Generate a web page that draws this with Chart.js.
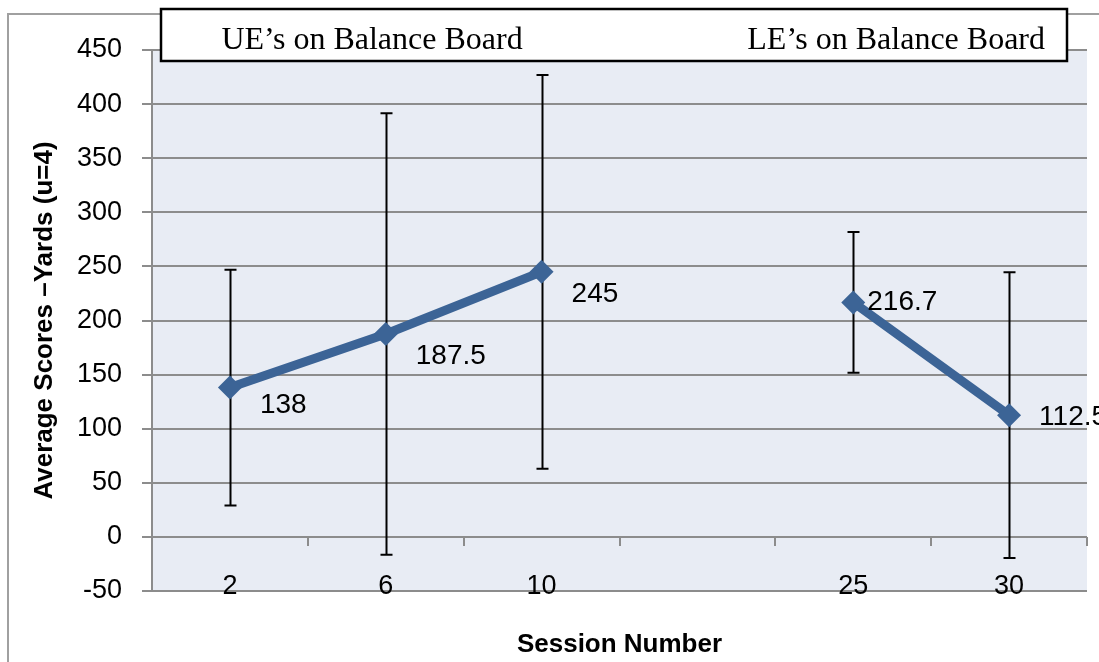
<!DOCTYPE html>
<html>
<head>
<meta charset="utf-8">
<script src="https://cdn.jsdelivr.net/npm/chart.js@4"></script>
<style>
  html, body { margin: 0; padding: 0; background: #fff; }
  #wrap { width: 1099px; height: 662px; }
</style>
</head>
<body>
<div id="wrap"><canvas id="myLineChart" width="1099" height="662"></canvas></div>
<script>
// chart data
const sessions = ['2', '6', '10', '', '25', '30'];
const avgScores = [138, 187.5, 245, null, 216.7, 112.5];
const errAmounts = [109, 204, 182, null, 65, 132];
const yTicks = [-50, 0, 50, 100, 150, 200, 250, 300, 350, 400, 450];
const phaseNames = ['UE\u2019s on Balance Board', 'LE\u2019s on Balance Board'];

const sans = '"Liberation Sans Narrow", "Arial Narrow", "Liberation Sans", sans-serif';
const gridGray = '#8c8c8c';
const lineBlue = '#3c6496';

const plotBg = {
  id: 'plotBg',
  beforeDraw(chart) {
    const c = chart.ctx, a = chart.chartArea;
    c.save();
    c.fillStyle = '#fff';
    c.fillRect(0, 0, chart.width, chart.height);
    // outer frame
    c.strokeStyle = '#a0a0a0';
    c.lineWidth = 2;
    c.beginPath();
    c.moveTo(8, chart.height + 2);
    c.lineTo(8, 14);
    c.lineTo(chart.width + 2, 14);
    c.stroke();
    c.fillStyle = '#e8ecf4';
    c.fillRect(a.left, a.top, a.right - a.left, a.bottom - a.top);
    c.restore();
  }
};

const zeroAxis = {
  id: 'zeroAxis',
  beforeDatasetsDraw(chart) {
    const c = chart.ctx;
    const x = chart.scales.x, y = chart.scales.y;
    const y0 = y.getPixelForValue(0);
    c.save();
    c.strokeStyle = gridGray;
    c.lineWidth = 2;
    c.beginPath();
    for (let i = 0; i <= sessions.length; i++) {
      const px = Math.round(x.getPixelForValue(i - 0.5));
      c.moveTo(px, y0);
      c.lineTo(px, y0 + 9);
    }
    c.stroke();
    // error bars
    c.strokeStyle = '#000';
    c.lineWidth = 2;
    c.beginPath();
    avgScores.forEach((v, i) => {
      if (v === null) return;
      const px = Math.round(x.getPixelForValue(i)) + 0.5;
      const hi = y.getPixelForValue(v + errAmounts[i]);
      const lo = y.getPixelForValue(v - errAmounts[i]);
      c.moveTo(px, hi); c.lineTo(px, lo);
      c.moveTo(px - 6, hi); c.lineTo(px + 6, hi);
      c.moveTo(px - 6, lo); c.lineTo(px + 6, lo);
    });
    c.stroke();
    c.restore();
  }
};

const valueLabels = {
  id: 'valueLabels',
  afterDatasetsDraw(chart) {
    const c = chart.ctx;
    const pts = chart.getDatasetMeta(0).data;
    // label offsets relative to point (style)
    const offs = [[30, 18], [30, 22], [30, 22], null, [14, 0], [30, 2]];
    c.save();
    c.font = '28px ' + sans;
    c.fillStyle = '#000';
    c.textBaseline = 'middle';
    c.textAlign = 'left';
    avgScores.forEach((v, i) => {
      if (v === null) return;
      const p = pts[i];
      c.fillText(String(v), p.x + offs[i][0], p.y + offs[i][1]);
    });
    c.restore();
  }
};

const phaseBox = {
  id: 'phaseBox',
  afterDraw(chart) {
    const c = chart.ctx, a = chart.chartArea;
    const left = a.left + 9, right = a.right - 20, top = 9, bottom = 61;
    c.save();
    c.fillStyle = '#fff';
    c.fillRect(left, top, right - left, bottom - top);
    c.strokeStyle = '#000';
    c.lineWidth = 2.5;
    c.strokeRect(left, top, right - left, bottom - top);
    c.fillStyle = '#000';
    c.font = '32px "Liberation Serif", "Times New Roman", serif';
    c.textBaseline = 'alphabetic';
    c.textAlign = 'center';
    c.fillText(phaseNames[0], 372, 49);
    c.textAlign = 'right';
    c.fillText(phaseNames[1], right - 22, 49);
    c.restore();
  }
};

const ctx = document.getElementById('myLineChart').getContext('2d');

new Chart(ctx, {
  type: 'line',
  data: {
    labels: sessions,
    datasets: [{
      label: 'Average',
      data: avgScores,
      borderColor: lineBlue,
      backgroundColor: lineBlue,
      borderWidth: 9,
      pointStyle: 'rectRot',
      pointRadius: 12,
      pointBorderWidth: 0,
      pointBackgroundColor: lineBlue,
      spanGaps: false,
      tension: 0
    }]
  },
  options: {
    responsive: false,
    animation: false,
    layout: { padding: { top: 50, right: 10, bottom: 0, left: 0 } },
    plugins: {
      legend: { display: false },
      tooltip: { enabled: false }
    },
    scales: {
      x: {
        offset: true,
        grid: { display: false, drawTicks: false, offset: true },
        border: { display: false },
        ticks: {
          font: { family: sans, size: 27 },
          color: '#000',
          mirror: true,
          padding: -12,
          maxRotation: 0,
          autoSkip: false
        },
        title: {
          display: true,
          text: 'Session Number',
          font: { family: sans, size: 26, weight: 'bold' },
          color: '#000',
          padding: { top: 0, bottom: 2 }
        },
        afterFit(scale) { scale.height = 71; }
      },
      y: {
        min: -50,
        max: 450,
        afterBuildTicks(scale) { scale.ticks = yTicks.map(v => ({ value: v })); },
        grid: { color: gridGray, lineWidth: 2, tickLength: 10 },
        border: { color: gridGray, width: 2 },
        ticks: {
          font: { family: sans, size: 27 },
          color: '#000',
          padding: 20
        },
        title: {
          display: true,
          text: 'Average Scores \u2013Yards (u=4)',
          font: { family: sans, size: 26, weight: 'bold' },
          color: '#000',
          padding: { top: 29, bottom: 0 }
        },
        afterFit(scale) { scale.width = 152; }
      }
    }
  },
  plugins: [plotBg, zeroAxis, valueLabels, phaseBox]
});
</script>
</body>
</html>
